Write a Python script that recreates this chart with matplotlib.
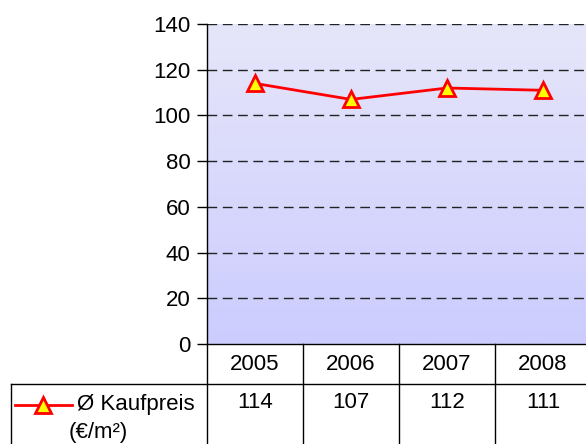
import numpy as np
import matplotlib.pyplot as plt
from matplotlib.lines import Line2D
from matplotlib.colors import LinearSegmentedColormap

years = ["2005", "2006", "2007", "2008"]
prices = [114, 107, 112, 111]
y_ticks = [0, 20, 40, 60, 80, 100, 120, 140]

plt.rcParams['font.family'] = ['Liberation Sans', 'DejaVu Sans']

W, H = 586, 444
fig = plt.figure(figsize=(W / 100, H / 100), dpi=100)

# pixel helpers
def fx(px):
    return px / W

def fy(py):
    return 1 - py / H

left, right, top, bottom = 207, 591, 24, 344
ax = fig.add_axes([fx(left), fy(bottom), fx(right) - fx(left), fy(top) - fy(bottom)])

# gradient background
cmap = LinearSegmentedColormap.from_list("bg", ["#CCCCFF", "#E6E6FA"])
grad = np.linspace(0, 1, 256).reshape(-1, 1)
ax.imshow(grad, cmap=cmap, aspect="auto", extent=[0, 4, 0, 140],
          origin="lower", zorder=0)

x = np.arange(len(years)) + 0.5
ax.plot(x, prices, color="red", lw=2, marker="^", markersize=12,
        markerfacecolor="yellow", markeredgecolor="red", markeredgewidth=2,
        zorder=3)

ax.set_xlim(0, 4)
ax.set_ylim(0, 140)
ax.set_yticks(y_ticks)
ax.set_xticks([])
ax.tick_params(axis="y", length=7, width=1, labelsize=16, direction="out", pad=5)
for yv in y_ticks[1:]:
    ax.axhline(yv, color="#222222", lw=1, ls=(0, (7, 4)), zorder=1)
for s in ["top", "right"]:
    ax.spines[s].set_visible(False)
ax.spines["left"].set_linewidth(1)
ax.spines["bottom"].set_linewidth(1)

# data table below the plot
col_w = 96
row1 = 384
lw = 1
for i in range(len(years) + 1):
    xp = left + i * col_w
    fig.add_artist(Line2D([fx(xp), fx(xp)], [fy(bottom), fy(H + 5)], color="black", lw=lw))
fig.add_artist(Line2D([fx(11), fx(11)], [fy(row1), fy(H + 5)], color="black", lw=lw))
fig.add_artist(Line2D([fx(11), 1], [fy(row1), fy(row1)], color="black", lw=lw))

for i, (yr, val) in enumerate(zip(years, prices)):
    cx = left + (i + 0.5) * col_w
    fig.text(fx(cx), fy(364), yr, ha="center", va="center", fontsize=16)
    fig.text(fx(cx), fy(402), str(val), ha="center", va="center", fontsize=16)

# legend key in table
fig.add_artist(Line2D([fx(15), fx(72)], [fy(405), fy(405)], color="red", lw=2))
fig.add_artist(Line2D([fx(43)], [fy(405)], marker="^", markersize=12,
                      markerfacecolor="yellow", markeredgecolor="red",
                      markeredgewidth=2, color="red"))
fig.text(fx(77), fy(404), "Ø Kaufpreis", ha="left", va="center", fontsize=16)
fig.text(fx(69), fy(432), "(€/m²)", ha="left", va="center", fontsize=16)

fig.savefig("out.png", dpi=100)
